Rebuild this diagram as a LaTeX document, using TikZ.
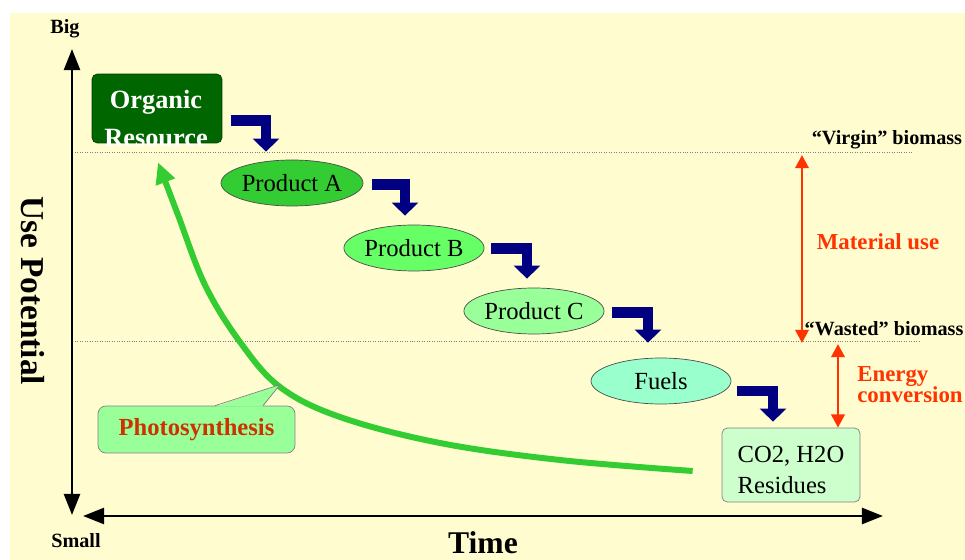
\documentclass[tikz,border=0pt]{standalone}
\usepackage{fontspec}
\setmainfont{Liberation Serif}
\usepackage{tikz}
\usepackage{xcolor}
\usetikzlibrary{calc}
\usetikzlibrary{positioning}
\usetikzlibrary{arrows.meta}
\usetikzlibrary{shapes.geometric}

\definecolor{bgyellow}{RGB}{255,253,208}
\definecolor{darkgreen}{RGB}{0,102,0}
\definecolor{greenA}{RGB}{51,204,51}
\definecolor{greenB}{RGB}{102,255,102}
\definecolor{greenC}{RGB}{153,255,153}
\definecolor{fuelgreen}{RGB}{153,255,204}
\definecolor{residgreen}{RGB}{204,255,204}
\definecolor{navyblue}{RGB}{0,0,128}
\definecolor{arrowred}{RGB}{255,51,0}
\definecolor{photored}{RGB}{204,51,0}

\begin{document}
\begin{tikzpicture}[x=0.02cm,y=-0.02cm,
  prod/.style={ellipse,draw=black!70,inner sep=0pt,minimum width=2.8cm,minimum height=0.92cm,font=\fontsize{14}{17}\selectfont},
  resbox/.style={rectangle,rounded corners=3pt,draw=black!40!darkgreen,fill=darkgreen,minimum width=2.6cm,minimum height=1.38cm},
  restext/.style={white,align=center,font=\bfseries\fontsize{15}{22}\selectfont},
  residbox/.style={rectangle,rounded corners=3pt,draw=black!50,fill=residgreen,minimum width=2.76cm,minimum height=1.48cm,align=left,font=\fontsize{14}{17.6}\selectfont},
  photobox/.style={rectangle,rounded corners=4.5pt,draw=black!50,fill=greenC,minimum width=3.94cm,minimum height=0.94cm,text=photored,font=\bfseries\fontsize{14}{17}\selectfont},
  flow/.style={navyblue,line width=6.2pt,-{Triangle[width=14.7pt,length=7.4pt]}},
  photoarrow/.style={greenA,line width=3.4pt,-{Triangle[width=11pt,length=12pt]}},
  redarrow/.style={arrowred,line width=1.7pt,{Triangle[width=7.5pt,length=7.5pt]}-{Triangle[width=7.5pt,length=7.5pt]}},
  axisline/.style={line width=1.7pt,{Triangle[width=9pt,length=12pt]}-{Triangle[width=9pt,length=12pt]}},
  guide/.style={black!50,densely dotted},
  lbl/.style={font=\bfseries\fontsize{11.5}{13}\selectfont},
  redlbl/.style={arrowred,align=left,inner sep=0pt,font=\bfseries\fontsize{13}{12}\selectfont}]
\useasboundingbox (0,0) rectangle (965,560);
\fill[bgyellow] (10,13) rectangle (965,560);

\draw[guide] (75,152) -- (912,152);
\draw[guide] (75,341) -- (919,341);

% axes
\node[lbl] (big) at (65,29) {Big};
\node[lbl] (small) at (76,541) {Small};
\coordinate (ytop) at (72,49);
\coordinate (ybot) at (72,515);
\draw[axisline] (ybot) -- (ytop);
\coordinate (xleft) at (83,516);
\coordinate (xright) at (883,516);
\draw[axisline] (xleft) -- (xright);
\node[inner sep=0pt,font=\bfseries\fontsize{18}{20}\selectfont] (time) at (483,543) {Time};
\node[rotate=-90,font=\bfseries\fontsize{19}{22}\selectfont] (usepot) at (33,291) {Use Potential};

\node[resbox] (res) at (157,108.5) {};
\node[restext] (restext) at (156,118.5) {Organic\\Resource};

\node[prod,fill=greenA] (prodA) at (292,183) {Product A};
\node[prod,fill=greenB] (prodB) at (414,248) {Product B};
\node[prod,fill=greenC] (prodC) at (534,311) {Product C};
\node[prod,fill=fuelgreen] (fuels) at (661,381) {Fuels};
\node[residbox,text height=33pt] (co2) at (791,465) {CO2, H2O\\Residues};

\foreach \from/\to/\sx/\sy/\ex/\ey in {res/prodA/9/12/-26/-8, prodA/prodB/9/1.5/-9/-9, prodB/prodC/7/0.5/-7/-9, prodC/fuels/8/1.5/-13/-15, fuels/co2/6/10/-18/-6}
{
	\draw[flow] ($(\from.east)+(\sx,\sy)$) -| ($(\to.north)+(\ex,\ey)$);
}

% photosynthesis
\coordinate (photostart) at ($(co2.west)+(-29,6)$);
\coordinate (photoend) at ($(res.south)+(1,19)$);
\draw[photoarrow] plot[smooth,tension=0.6] coordinates {(photostart) (560,460) (440,443) (340,417) (280,387) (240,342) (205,285) (178,215) (photoend)};
\node[photobox] (photo) at (196.5,429.5) {Photosynthesis};
\coordinate (pointer) at ($(photo.north)+(83.5,-21)$);
\fill[greenC] ($(photo.north)+(18.5,1)$) -- (pointer) -- ($(photo.north)+(66.5,1)$) -- cycle;
\draw[black!50] ($(photo.north)+(18.5,0)$) -- (pointer) -- ($(photo.north)+(66.5,0)$);

% biomass levels
\node[lbl] (virgin) at (887,140) {“Virgin” biomass};
\node[lbl] (wasted) at (884,329) {“Wasted” biomass};
\coordinate (mattop) at (802,155);
\coordinate (matbot) at (802,343);
\draw[redarrow] (mattop) -- (matbot);
\coordinate (entop) at (838,344);
\draw[redarrow] (entop) -- (entop |- co2.north);
\node[redlbl] (matuse) at (878,242) {Material use};
\node[redlbl,anchor=west] (energy) at (857,385) {Energy\\conversion};
\end{tikzpicture}
\end{document}
